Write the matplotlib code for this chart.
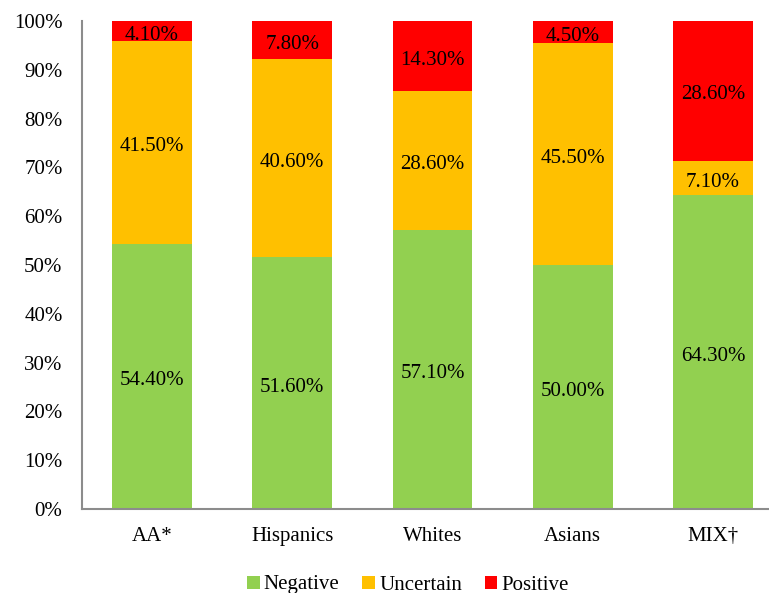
import matplotlib
matplotlib.use("Agg")
import matplotlib.pyplot as plt
from matplotlib.ticker import PercentFormatter

categories = ["AA*", "Hispanics", "Whites", "Asians", "MIX\u2020"]
negative = [54.4, 51.6, 57.1, 50.0, 64.3]
uncertain = [41.5, 40.6, 28.6, 45.5, 7.1]
positive = [4.1, 7.8, 14.3, 4.5, 28.6]
series_names = ["Negative", "Uncertain", "Positive"]
colors = ["#92D050", "#FFC000", "#FF0000"]

plt.rcParams['font.family'] = ['Liberation Serif', 'DejaVu Serif']

fig = plt.figure(figsize=(7.69, 5.93), dpi=100)
ax = fig.add_axes([82/769, 1-509/593, (783-82)/769, 488/593])

x = list(range(len(categories)))
bottom = [0.0]*len(categories)
handles = []
for name, vals, c in zip(series_names, [negative, uncertain, positive], colors):
    bars = ax.bar(x, vals, width=0.57, bottom=bottom, color=c, linewidth=0, label=name)
    handles.append(bars)
    for xi, v, b in zip(x, vals, bottom):
        ax.annotate(f"{v:.2f}%", (xi, b + v/2), xytext=(0, -3), textcoords="offset points",
                    ha="center", va="center", fontsize=15, color="black")
    bottom = [b + v for b, v in zip(bottom, vals)]

ax.set_xlim(-0.5, len(categories)-0.5)
ax.set_ylim(0, 100)
ax.set_yticks(range(0, 101, 10))
ax.yaxis.set_major_formatter(PercentFormatter(decimals=0))
ax.set_xticks(x)
ax.set_xticklabels(categories)
ax.tick_params(axis='both', length=0, labelsize=15)
ax.tick_params(axis='y', pad=14)
ax.tick_params(axis='x', pad=13)
for s in ["top", "right"]:
    ax.spines[s].set_visible(False)
for s in ["left", "bottom"]:
    ax.spines[s].set_color("#8C8C8C")
    ax.spines[s].set_linewidth(1.5)

fig.legend(handles=handles, labels=series_names, loc="center", bbox_to_anchor=(408/769, 1-585/593),
           ncol=3, frameon=False, fontsize=15, handlelength=0.6, handleheight=0.6,
           handletextpad=0.2, columnspacing=1.1)

fig.savefig("out.png", dpi=100)
